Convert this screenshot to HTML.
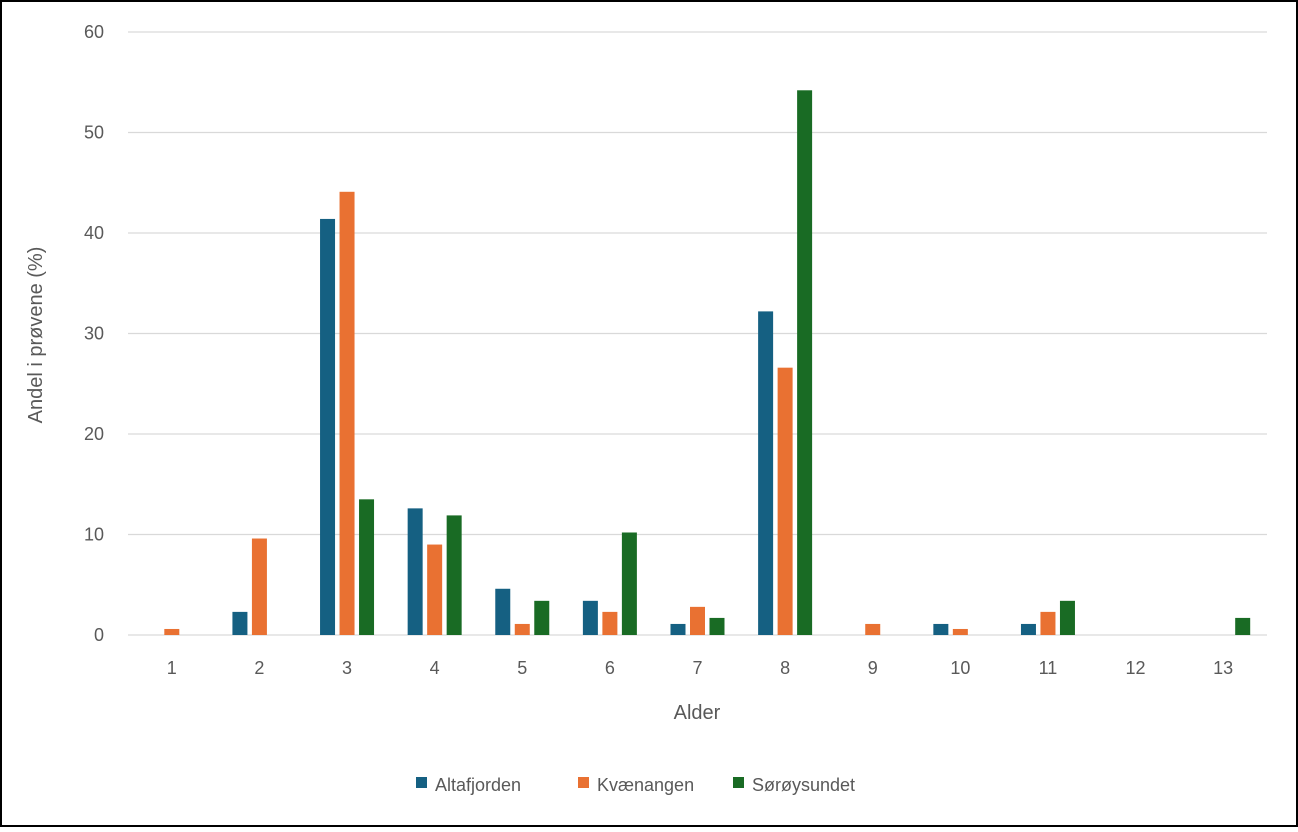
<!DOCTYPE html>
<html><head><meta charset="utf-8">
<style>
html,body{margin:0;padding:0;background:#fff;}
body{width:1298px;height:827px;overflow:hidden;font-family:"Liberation Sans",sans-serif;}
</style></head>
<body>
<svg id="chart" width="1298" height="827" xmlns="http://www.w3.org/2000/svg" font-family="Liberation Sans, sans-serif">
<rect x="1" y="1" width="1296" height="825" fill="#fff" stroke="#000" stroke-width="2"/>
<g id="grid"></g>
<g id="bars"></g>
<g id="xlabels"></g>
<text transform="translate(42,335) rotate(-90)" text-anchor="middle" font-size="20" fill="#595959">Andel i prøvene (%)</text>
<text x="697" y="719" text-anchor="middle" font-size="20" fill="#595959">Alder</text>
<g id="legend"></g>
</svg>
<script>
const categories=["1","2","3","4","5","6","7","8","9","10","11","12","13"];
const seriesNames=["Altafjorden","Kvænangen","Sørøysundet"];
const altafjorden=[0,2.3,41.4,12.6,4.6,3.4,1.1,32.2,0,1.1,1.1,0,0];
const kvaenangen=[0.6,9.6,44.1,9.0,1.1,2.3,2.8,26.6,1.1,0.6,2.3,0,0];
const soroysundet=[0,0,13.5,11.9,3.4,10.2,1.7,54.2,0,0,3.4,0,1.7];
const yTicks=[0,10,20,30,40,50,60];
const colors=["#156082","#E97132","#196B24"];
const NS="http://www.w3.org/2000/svg";
const x0=128,x1=1267,yBase=635,yTop=32,yMax=60;
const band=(x1-x0)/categories.length;
function yScale(v){return yBase-(v/yMax)*(yBase-yTop);}
function xCenter(i){return x0+band*(i+0.5);}
function mk(tag,attrs,parent){const e=document.createElementNS(NS,tag);for(const k in attrs)e.setAttribute(k,attrs[k]);parent.appendChild(e);return e;}
const grid=document.getElementById('grid');
yTicks.forEach(t=>{
  const y=yScale(t);
  const l=mk('line',{x1:x0,x2:x1,y1:y,y2:y,stroke:'#d9d9d9','stroke-width':1.3},grid);
  
  
  const tx=mk('text',{x:104,y:y+6,'text-anchor':'end','font-size':18,fill:'#595959'},grid);
  tx.textContent=t;
  
  
});
const bars=document.getElementById('bars');
const data=[altafjorden,kvaenangen,soroysundet];
const bw=15,step=19.5;
data.forEach((s,si)=>{
  s.forEach((v,i)=>{
    if(v<=0)return;
    const cx=xCenter(i)+(si-1)*step;
    const r=mk('rect',{x:cx-bw/2,y:yScale(v),width:bw,height:yBase-yScale(v),fill:colors[si]},bars);
    
    
  });
});
const xl=document.getElementById('xlabels');
categories.forEach((c,i)=>{
  const t=mk('text',{x:xCenter(i),y:674,'text-anchor':'middle','font-size':18,fill:'#595959'},xl);
  t.textContent=c;
  
  
});
const leg=document.getElementById('legend');
const legX=[416,578,733];
seriesNames.forEach((n,i)=>{
  const r=mk('rect',{x:legX[i],y:777,width:11,height:11,fill:colors[i]},leg);
  
  
  const t=mk('text',{x:legX[i]+19,y:791,'font-size':18,fill:'#595959'},leg);
  t.textContent=n;
  
  
});
</script>
</body></html>
